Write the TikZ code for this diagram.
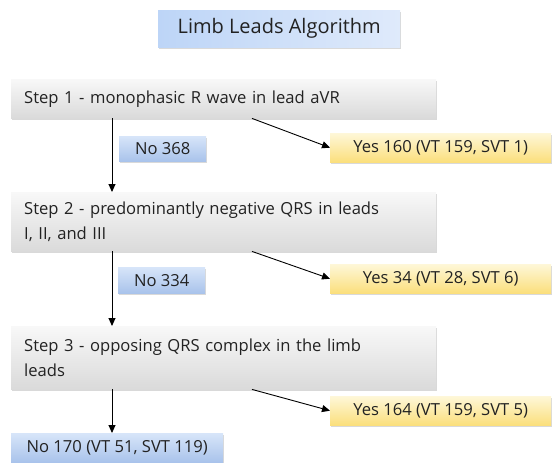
\documentclass[tikz,border=0pt]{standalone}
\usepackage{fontspec}
\setmainfont{Open Sans}
\usetikzlibrary{arrows.meta,shadows,calc}
\definecolor{grayTop}{HTML}{F8F8F8}
\definecolor{grayBot}{HTML}{DADADA}
\definecolor{blueTop}{HTML}{D7E5F9}
\definecolor{blueBot}{HTML}{A9C3EB}
\definecolor{titleL}{HTML}{BDD5F7}
\definecolor{titleR}{HTML}{DFEAFB}
\definecolor{yelTop}{HTML}{FEF7D8}
\definecolor{yelBot}{HTML}{FBDF7C}
\definecolor{ink}{HTML}{222222}
\begin{document}
\begin{tikzpicture}[x=1pt,y=-1pt,
  every node/.style={font=\fontsize{16.6}{25}\selectfont, text=ink},
  box/.style={anchor=north west, inner sep=0pt, align=center,
    drop shadow={shadow xshift=1pt, shadow yshift=-2pt, opacity=0.3}},
  stepbox/.style={box, minimum height=#1, text width=399pt, inner xsep=13pt,
    align=left, top color=grayTop, bottom color=grayBot},
  nobox/.style={box, top color=blueTop, bottom color=blueBot},
  yesbox/.style={box, minimum width=221pt, minimum height=29pt,
    top color=yelTop, bottom color=yelBot},
  titlebox/.style={box, left color=titleL, right color=titleR,
    font=\fontsize{20}{24}\selectfont},
  link/.style={draw=black, line width=0.9pt,
    -{Triangle[length=8pt,width=7pt]}}
]
\useasboundingbox (0,0) rectangle (554,463);

% title
\node[titlebox, minimum width=242pt, minimum height=37pt] (title) at (158,10)
  {Limb Leads Algorithm};

% decision steps
\node[stepbox=39pt] (s1) at (11,79) {Step 1 - monophasic R wave in lead aVR};
\node[stepbox=59pt] (s2) at (11,192)
  {Step 2 - predominantly negative QRS in leads\\I, II, and III};
\node[stepbox=63pt] (s3) at (11,326)
  {Step 3 - opposing QRS complex in the limb\\leads};

% outcomes
\node[nobox, minimum width=87pt, minimum height=25pt] (n1) at (119,136) {No 368};
\node[nobox, minimum width=87pt, minimum height=26pt] (n2) at (118,267) {No 334};
\node[nobox, minimum width=212pt, minimum height=29pt] (n3) at (11,433)
  {No 170 (VT 51, SVT 119)};
\node[yesbox] (y1) at (330,133) {Yes 160 (VT 159, SVT 1)};
\node[yesbox] (y2) at (330,264) {Yes 34 (VT 28, SVT 6)};
\node[yesbox] (y3) at (330,396) {Yes 164 (VT 159, SVT 5)};

% connector lanes
\coordinate (down) at (112,0);
\coordinate (side) at (252,0);

\draw[link] (s1.south -| down) -- (s2.north -| down);
\draw[link] (s2.south -| down) -- (s3.north -| down);
\draw[link] (s3.south -| down) -- (n3.north -| down);
\draw[link] (s1.south -| side) -- (y1.west);
\draw[link] (s2.south -| side) -- (y2.west);
\draw[link] (s3.south -| side) -- (y3.west);
\end{tikzpicture}
\end{document}
